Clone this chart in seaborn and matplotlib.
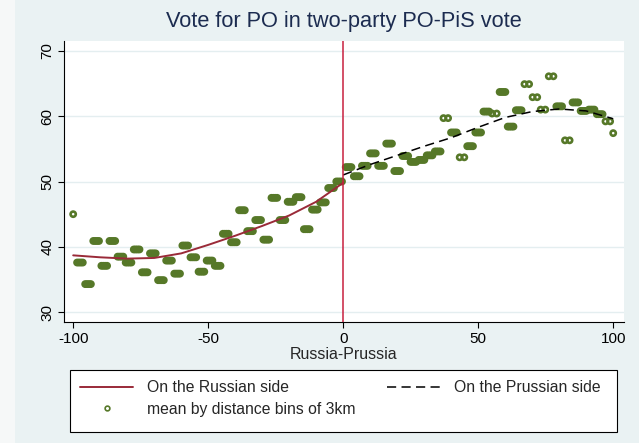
import pandas as pd
import seaborn as sns
from matplotlib import pyplot as plt
from matplotlib.lines import Line2D
from matplotlib.patches import Rectangle

# mean PO vote by 3km distance bins (bin mid point, km from the border)
bin_mid = [-100,
           -97.5, -94.5, -91.5, -88.5, -85.5, -82.5, -79.5, -76.5, -73.5, -70.5, -67.5,
           -64.5, -61.5, -58.5, -55.5, -52.5, -49.5, -46.5, -43.5, -40.5, -37.5, -34.5,
           -31.5, -28.5, -25.5, -22.5, -19.5, -16.5, -13.5, -10.5, -7.5, -4.5, -1.5,
           2, 5, 8, 11, 14, 17, 20, 23, 26, 29, 32, 35, 38, 41, 44, 47, 50,
           53, 56, 59, 62, 65, 68, 71, 74, 77, 80, 83, 86, 89, 92, 95, 98,
           100]
bin_mean = [45.0,
            37.6, 34.3, 40.9, 37.1, 40.9, 38.5, 37.6, 39.6, 36.1, 39.0, 34.9,
            37.9, 35.9, 40.2, 38.4, 36.2, 37.9, 37.1, 42.0, 40.7, 45.6, 42.4,
            44.1, 41.1, 47.5, 44.1, 46.9, 47.6, 42.7, 45.7, 46.8, 49.0, 50.0,
            52.2, 50.8, 52.4, 54.3, 52.4, 55.8, 51.6, 53.9, 53.0, 53.3, 54.0, 54.6, 59.7, 57.5, 53.7, 55.4, 57.5,
            60.7, 60.4, 63.7, 58.4, 60.9, 64.9, 62.9, 61.0, 66.1, 61.5, 56.3, 62.1, 60.8, 61.0, 60.3, 59.2,
            57.4]
# how dense each bin is: 1 single ring, 2 sparse (separate rings), 3 dense (solid blob)
bin_n = [1,
         3, 3, 3, 3, 3, 3, 3, 3, 3, 3, 3,
         3, 3, 3, 3, 3, 3, 3, 3, 3, 3, 3,
         3, 3, 3, 3, 3, 3, 3, 3, 3, 3, 3,
         3, 3, 3, 3, 3, 3, 3, 3, 3, 3, 3, 3, 2, 3, 2, 3, 3,
         3, 2, 3, 3, 3, 2, 2, 2, 2, 3, 2, 3, 3, 3, 3, 2,
         1]

# fitted polynomials on each side of the border
russian_x = [-100, -90, -80, -70, -60, -50, -40, -30, -20, -10, 0]
russian_fit = [38.7, 38.4, 38.2, 38.3, 39.0, 40.3, 41.7, 43.2, 44.8, 46.9, 49.8]
prussian_x = [0, 10, 20, 30, 40, 50, 60, 70, 80, 90, 100]
prussian_fit = [51.0, 52.6, 54.0, 55.4, 56.7, 58.3, 59.8, 60.7, 61.1, 60.8, 59.6]

x_ticks = [-100, -50, 0, 50, 100]
y_ticks = [30, 40, 50, 60, 70]

# km offsets of the municipality rings inside a bin
spread = {1: [0.0], 2: [-0.85, 0.85], 3: [-1.05, -0.35, 0.35, 1.05]}
rows = []
for m, v, n in zip(bin_mid, bin_mean, bin_n):
    for d in spread[n]:
        rows.append((m + d, v))
pts = pd.DataFrame(rows, columns=['distance', 'vote'])

sns.set_style("ticks")
plt.rcParams['font.family'] = ['Liberation Sans', 'DejaVu Sans']
plt.rcParams['axes.unicode_minus'] = False

green = '#567828'
maroon = '#9a2a38'
bg = '#eaf2f3'

W, H = 639, 443
fig = plt.figure(figsize=(W / 100, H / 100), dpi=100, facecolor=bg)
fig.patches.append(Rectangle((0, 0), 15 / W, 1, transform=fig.transFigure,
                             facecolor='#f6f8f8', edgecolor='none'))
ax = fig.add_axes([64 / W, 121 / H, 560 / W, 281 / H])
ax.set_facecolor('white')

sns.scatterplot(data=pts, x='distance', y='vote', marker='o', s=14,
                facecolor='none', edgecolor=green, linewidth=1.9,
                zorder=2, legend=False, ax=ax)
sns.lineplot(x=russian_x, y=russian_fit, color=maroon, linewidth=1.4,
             zorder=3, ax=ax)
sns.lineplot(x=prussian_x, y=prussian_fit, color='black', linewidth=1.1,
             linestyle=(0, (6, 3.5)), zorder=3, ax=ax)
ax.axvline(0, color='#c8203f', linewidth=1.1, zorder=4)

ax.set_xlim(-103.4, 104.0)
ax.set_ylim(28.5, 71.5)
ax.set_xticks(x_ticks)
ax.set_yticks(y_ticks)
ax.grid(axis='y', color='#e4eef0', linewidth=1.0)
ax.set_axisbelow(True)
for s in ['top', 'right']:
    ax.spines[s].set_visible(False)
for s in ['left', 'bottom']:
    ax.spines[s].set_color('black')
    ax.spines[s].set_linewidth(0.8)
ax.tick_params(direction='out', length=4, width=0.8, colors='black', labelsize=11, pad=3)
ax.tick_params(axis='y', labelrotation=90)
for lbl in ax.get_yticklabels():
    lbl.set_va('center')

ax.set_ylabel('')
ax.set_xlabel('Russia-Prussia', fontsize=11.5)
ax.xaxis.set_label_coords(0.5, -0.088)

fig.text(344 / W, 1 - 22 / H, 'Vote for PO in two-party PO-PiS vote',
         ha='center', va='center', fontsize=15.7, color='#1c2c50')

# legend box drawn separately so the entries can sit where Stata puts them
fig.patches.append(Rectangle((70 / W, 1 - 432 / H), 547 / W, 62 / H,
                             transform=fig.transFigure, facecolor='white',
                             edgecolor='black', linewidth=0.8))
handles = [Line2D([], [], color=maroon, linewidth=1.4),
           Line2D([], [], marker='o', linestyle='none', markerfacecolor='none',
                  markeredgecolor=green, markersize=3.4, markeredgewidth=1.2),
           Line2D([], [], color='black', linewidth=1.1, linestyle=(0, (6, 3.5)))]
labels = ['On the Russian side', 'mean by distance bins of 3km', 'On the Prussian side']
fig.legend(handles, labels, ncol=2, loc='center', mode='expand',
           bbox_to_anchor=(80 / W, 1 - 408.5 / H, 521 / W, 20 / H),
           fontsize=11.3, handlelength=3.4, handletextpad=0.9,
           borderpad=0, borderaxespad=0, labelspacing=0.4, frameon=False)

fig.savefig('out.png', dpi=100, facecolor=bg)
